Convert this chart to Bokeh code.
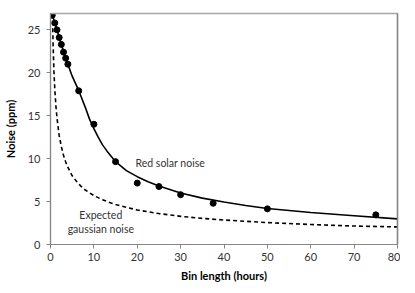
from bokeh.plotting import figure
from bokeh.models import FixedTicker, Range1d, Label, LinearAxis
from bokeh.embed import file_html
from bokeh.resources import INLINE

# measured points
bin_hours = [0.4, 1, 1.5, 2, 2.5, 3, 3.5, 4, 6.5, 10, 15, 20, 25, 30, 37.5, 50, 75]
noise_ppm = [26.7, 25.8, 25.0, 24.1, 23.3, 22.4, 21.7, 21.0, 17.9, 14.0, 9.65, 7.15, 6.75, 5.8, 4.8, 4.15, 3.45]

# fitted red-noise curve
red_x = [0.4, 1, 1.5, 2, 2.5, 3, 3.5, 4, 5, 6, 7, 8, 9, 10, 11, 12, 13, 15, 17.5, 20,
         22.5, 25, 27.5, 30, 35, 40, 45, 50, 60, 70, 80]
red_y = [26.8, 25.8, 25.0, 24.1, 23.3, 22.5, 21.7, 21.0, 19.6, 18.5, 17.3, 16.0, 14.6, 13.5,
         12.5, 11.6, 10.9, 9.65, 8.6, 7.9, 7.3, 6.8, 6.4, 6.0, 5.4, 4.95, 4.55, 4.2, 3.72, 3.35, 2.98]

# expected gaussian curve
gau_x = [0.45, 0.6, 0.8, 1, 1.25, 1.5, 2, 2.5, 3, 3.5, 4, 5, 6, 7, 8, 10, 12, 15, 20, 25,
         30, 35, 40, 50, 60, 70, 80]
gau_y = [26.8, 23.2, 20.1, 18.0, 16.1, 14.7, 12.7, 11.4, 10.4, 9.6, 9.0, 8.0, 7.35, 6.8, 6.35,
         5.7, 5.2, 4.65, 4.02, 3.6, 3.28, 3.04, 2.85, 2.55, 2.33, 2.15, 2.05]

x_ticks = [0, 10, 20, 30, 40, 50, 60, 70, 80]
y_ticks = [0, 5, 10, 15, 20, 25]

FONT = "Lato"

p = figure(width=400, height=284, output_backend="svg", toolbar_location=None,
           x_range=Range1d(0, 80), y_range=Range1d(0, 26.9),
           min_border_left=41, min_border_right=3, min_border_top=13, min_border_bottom=10)
p.background_fill_color = "white"
p.border_fill_color = "white"
p.outline_line_color = "#999999"
p.outline_line_width = 1.2
p.grid.visible = False

xax = p.below[0]
yax = p.left[0]

# frame edges at top and right, as bare axes
for loc, col in (("above", "#a6a6a6"), ("right", "#868686")):
    edge = LinearAxis(ticker=FixedTicker(ticks=[]), major_tick_out=0, major_tick_in=0,
                      minor_tick_line_color=None, major_label_text_font_size="0px",
                      axis_label=None, axis_line_color=col, axis_line_width=1.5)
    p.add_layout(edge, loc)

p.line(gau_x, gau_y, line_color="black", line_width=1.6, line_dash="4 3")
p.line(red_x, red_y, line_color="black", line_width=1.6)
p.scatter(bin_hours, noise_ppm, size=6, color="black")

for ax, ticks in ((xax, x_ticks), (yax, y_ticks)):
    ax.ticker = FixedTicker(ticks=ticks)
    ax.axis_line_color = "#868686"
    ax.axis_line_width = 1.2
    ax.major_tick_line_color = "#868686"
    ax.minor_tick_line_color = None
    ax.major_tick_in = 0
    ax.major_tick_out = 4
    ax.major_label_text_font = FONT
    ax.major_label_text_font_size = "11px"
    ax.major_label_text_color = "#333333"
    ax.axis_label_text_font = FONT
    ax.axis_label_text_font_size = "11px"
    ax.axis_label_text_font_style = "bold"
    ax.axis_label_text_color = "black"

xax.axis_label = "Bin length (hours)"
yax.axis_label = "Noise (ppm)"
xax.major_label_standoff = 4
yax.major_label_standoff = 6
xax.axis_label_standoff = 5
yax.axis_label_standoff = 8

p.add_layout(Label(x=19.6, y=9.5, text="Red solar noise", text_font=FONT,
                   text_font_size="10.5px", text_color="#333333", text_baseline="middle"))
p.add_layout(Label(x=11.6, y=3.45, text="Expected", text_font=FONT,
                   text_font_size="10.5px", text_color="#333333", text_baseline="middle",
                   text_align="center"))
p.add_layout(Label(x=11.6, y=1.85, text="gaussian noise", text_font=FONT,
                   text_font_size="10.5px", text_color="#333333", text_baseline="middle",
                   text_align="center"))

open("out.html", "w").write(file_html(p, INLINE))
